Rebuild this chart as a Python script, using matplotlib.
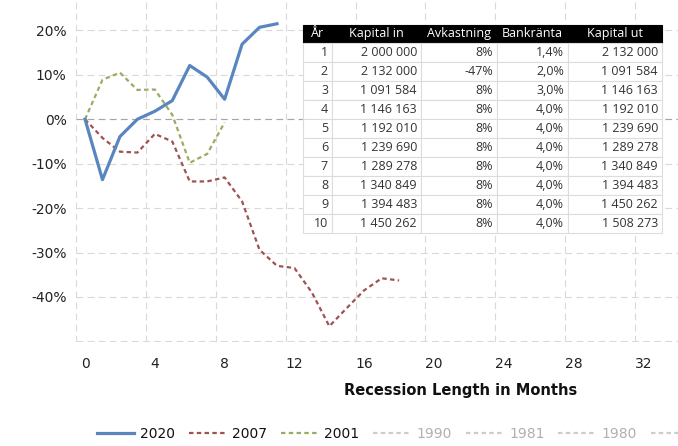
import matplotlib
matplotlib.use('Agg')
import matplotlib.pyplot as plt
import numpy as np
from matplotlib.ticker import FuncFormatter

# ---- chart data (percent change vs. recession start) ----
months_2020 = list(range(12))
vals_2020 = [0, -13.6, -3.9, 0.0, 1.8, 4.2, 12.1, 9.5, 4.5, 16.9, 20.7, 21.5]
months_2007 = list(range(19))
vals_2007 = [0, -4.2, -7.3, -7.5, -3.3, -5.0, -14.0, -14.0, -13.1, -18.5, -29.4,
             -33.0, -33.5, -39.0, -46.6, -42.5, -38.5, -35.8, -36.3]
months_2001 = list(range(9))
vals_2001 = [0, 8.9, 10.5, 6.6, 6.7, 1.0, -9.8, -7.8, -0.7]
hidden_series = ['1990', '1981', '1980', '']

x_ticks = [0, 4, 8, 12, 16, 20, 24, 28, 32]
y_ticks = [-50, -40, -30, -20, -10, 0, 10, 20]

# ---- table data ----
table_headers = ['År', 'Kapital in', 'Avkastning', 'Bankränta', 'Kapital ut']
col_ar = ['1', '2', '3', '4', '5', '6', '7', '8', '9', '10']
col_in = ['2 000 000', '2 132 000', '1 091 584', '1 146 163', '1 192 010',
          '1 239 690', '1 289 278', '1 340 849', '1 394 483', '1 450 262']
col_avk = ['8%', '-47%', '8%', '8%', '8%', '8%', '8%', '8%', '8%', '8%']
col_bank = ['1,4%', '2,0%', '3,0%', '4,0%', '4,0%', '4,0%', '4,0%', '4,0%', '4,0%', '4,0%']
col_ut = ['2 132 000', '1 091 584', '1 146 163', '1 192 010', '1 239 690',
          '1 289 278', '1 340 849', '1 394 483', '1 450 262', '1 508 273']

W, H = 678, 446
fig = plt.figure(figsize=(W / 100, H / 100), dpi=100)
ax = fig.add_axes([76.3 / W, (H - 342) / H, 1 - 76.3 / W, 342 / H])

c2020 = '#5a86bf'
c2007 = '#a05252'
c2001 = '#9aab63'
cgray = '#cccccc'

ax.plot(months_2020, vals_2020, color=c2020, lw=2.3, solid_joinstyle='round', label='2020', zorder=4)
ax.plot(months_2007, vals_2007, color=c2007, lw=1.6, linestyle=(0, (2, 1.5)), label='2007', zorder=3)
ax.plot(months_2001, vals_2001, color=c2001, lw=1.6, linestyle=(0, (2, 1.5)), label='2001', zorder=3)
for i, s in enumerate(hidden_series):
    ax.plot([], [], color=cgray, lw=1.6, linestyle=(0, (2, 1.5)), label=s if s else f'_h{i}')

ax.set_xticks(x_ticks)
ax.set_xticks(np.arange(-0.5, 40, 4), minor=True)
ax.set_yticks(y_ticks)
ax.set_xlim(-0.5, 33.98)
ax.set_ylim(-50.15, 26.85)
ax.yaxis.set_major_formatter(FuncFormatter(lambda v, p: '' if v <= -50 else f'{int(v)}%'))
ax.tick_params(axis='both', which='both', length=0, labelsize=10, colors='#222222')
ax.tick_params(axis='x', pad=11)
ax.tick_params(axis='y', pad=7)
for sp in ax.spines.values():
    sp.set_visible(False)
ax.grid(which='minor', axis='x', color='#d9d9d9', lw=0.8, linestyle=(0, (6, 4)))
ax.grid(which='major', axis='y', color='#d9d9d9', lw=0.8, linestyle=(0, (6, 4)))
ax.grid(which='major', axis='x', visible=False)
ax.axhline(0, color='#a6a6a6', lw=0.8, linestyle=(0, (6, 4)), zorder=2)
ax.set_axisbelow(True)

fig.text(461 / W, 1 - 390 / H, 'Recession Length in Months', ha='center', va='center',
         fontsize=10.5, fontweight='bold', color='#111111')

handles = ax.get_lines()[:7]
labels = ['2020', '2007', '2001'] + hidden_series
leg = fig.legend(handles, labels, loc='center left', bbox_to_anchor=(97 / W, 1 - 434 / H),
                 ncol=7, frameon=False, handlelength=2.66, handletextpad=0.45,
                 columnspacing=1.0, borderpad=0, borderaxespad=0, fontsize=10)
for t, l in zip(leg.get_texts(), labels):
    t.set_color('#b0b0b0' if l in hidden_series else '#111111')

# ---- table ----
left, right, top, bottom = 303, 662, 24.5, 233
tax = fig.add_axes([left / W, (H - bottom) / H, (right - left) / W, (bottom - top) / H])
tax.axis('off')
col_px = [29, 89, 76, 71, 94]
fracs = [c / sum(col_px) for c in col_px]
rows = [list(r) for r in zip(col_ar, col_in, col_avk, col_bank, col_ut)]
tbl = tax.table(cellText=rows, colLabels=table_headers, colWidths=fracs,
                bbox=[0, 0, 1, 1], cellLoc='right')
tbl.auto_set_font_size(False)
tbl.set_fontsize(9)
for (r, c), cell in tbl.get_celld().items():
    cell.set_linewidth(0.8)
    txt = cell.get_text()
    txt.set_fontfamily('Open Sans')
    if r == 0:
        cell.set_facecolor('black')
        cell.set_edgecolor('black')
        txt.set_color('white')
        cell._loc = 'left'
        cell.PAD = 3.5 / col_px[c]
    else:
        cell.set_facecolor('white')
        cell.set_edgecolor('#dcdcdc')
        txt.set_color('#333333')
        cell.PAD = 4.0 / col_px[c]

fig.savefig('out.png', dpi=100)
